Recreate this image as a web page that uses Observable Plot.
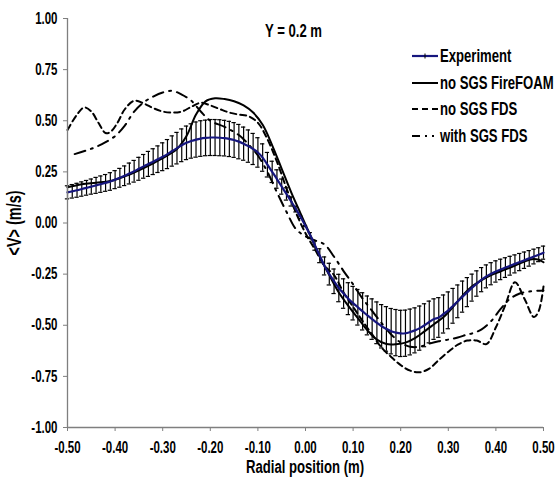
<!DOCTYPE html>
<html><head><meta charset="utf-8">
<script src="https://cdn.jsdelivr.net/npm/d3@7"></script>
<script src="https://cdn.jsdelivr.net/npm/@observablehq/plot@0.6"></script>
<style>
body{margin:0;background:#fff;}
#wrap{position:relative;width:558px;height:486px;font-family:"Liberation Sans",Arial,sans-serif;font-weight:bold;color:#000;}
.lbl{position:absolute;white-space:nowrap;line-height:1;}
.leg{position:absolute;left:412px;top:0;}
.leg div{position:absolute;left:28px;font-size:16px;white-space:nowrap;line-height:1;transform-origin:0 50%;transform:translateY(-50%) scale(0.82,1.15);}
.leg svg{position:absolute;left:0;overflow:visible;}
</style></head><body><div id="wrap"></div>
<script>
// ---- data ----
const expX = [-0.50,-0.49,-0.48,-0.47,-0.46,-0.45,-0.44,-0.43,-0.42,-0.41,-0.40,-0.39,-0.38,-0.37,-0.36,-0.35,-0.34,-0.33,-0.32,-0.31,-0.30,-0.29,-0.28,-0.27,-0.26,-0.25,-0.24,-0.23,-0.22,-0.21,-0.20,-0.19,-0.18,-0.17,-0.16,-0.15,-0.14,-0.13,-0.12,-0.11,-0.10,-0.09,-0.08,-0.07,-0.06,-0.05,-0.04,-0.03,-0.02,-0.01,0.00,0.01,0.02,0.03,0.04,0.05,0.06,0.07,0.08,0.09,0.10,0.11,0.12,0.13,0.14,0.15,0.16,0.17,0.18,0.19,0.20,0.21,0.22,0.23,0.24,0.25,0.26,0.27,0.28,0.29,0.30,0.31,0.32,0.33,0.34,0.35,0.36,0.37,0.38,0.39,0.40,0.41,0.42,0.43,0.44,0.45,0.46,0.47,0.48,0.49,0.50];
const expV = [0.150,0.155,0.160,0.166,0.172,0.178,0.184,0.190,0.196,0.203,0.212,0.221,0.231,0.242,0.253,0.265,0.277,0.289,0.300,0.312,0.324,0.337,0.352,0.366,0.380,0.392,0.401,0.408,0.413,0.416,0.418,0.418,0.417,0.415,0.411,0.406,0.398,0.388,0.376,0.362,0.345,0.320,0.285,0.250,0.215,0.178,0.142,0.105,0.068,0.028,-0.015,-0.060,-0.110,-0.160,-0.210,-0.250,-0.285,-0.318,-0.345,-0.370,-0.392,-0.412,-0.432,-0.452,-0.470,-0.488,-0.505,-0.518,-0.529,-0.536,-0.540,-0.539,-0.533,-0.525,-0.514,-0.500,-0.484,-0.470,-0.462,-0.445,-0.427,-0.405,-0.383,-0.360,-0.338,-0.316,-0.296,-0.277,-0.261,-0.248,-0.237,-0.227,-0.218,-0.209,-0.200,-0.191,-0.182,-0.173,-0.164,-0.155,-0.145];
const expErr = [0.032,0.033,0.034,0.035,0.036,0.037,0.039,0.040,0.041,0.043,0.044,0.046,0.048,0.051,0.053,0.056,0.058,0.061,0.063,0.065,0.068,0.071,0.074,0.077,0.080,0.082,0.084,0.086,0.087,0.087,0.088,0.088,0.088,0.087,0.086,0.085,0.084,0.081,0.079,0.076,0.072,0.067,0.060,0.052,0.045,0.037,0.030,0.022,0.014,0.006,0.003,0.013,0.023,0.034,0.044,0.053,0.060,0.067,0.072,0.078,0.082,0.087,0.091,0.095,0.099,0.102,0.106,0.109,0.111,0.113,0.113,0.113,0.112,0.110,0.108,0.105,0.102,0.099,0.097,0.093,0.090,0.085,0.080,0.076,0.071,0.066,0.062,0.059,0.056,0.054,0.052,0.050,0.048,0.046,0.044,0.042,0.040,0.038,0.036,0.034,0.032];

const foamX = [-0.50,-0.47,-0.44,-0.41,-0.38,-0.35,-0.32,-0.29,-0.27,-0.25,-0.23,-0.21,-0.19,-0.17,-0.15,-0.13,-0.11,-0.09,-0.07,-0.05,-0.03,-0.01,0.01,0.03,0.05,0.07,0.09,0.11,0.13,0.15,0.17,0.19,0.21,0.23,0.25,0.27,0.29,0.31,0.33,0.35,0.37,0.39,0.41,0.43,0.45,0.47,0.48,0.49,0.50];
const foamV = [0.175,0.190,0.197,0.205,0.228,0.258,0.292,0.330,0.362,0.425,0.530,0.595,0.610,0.606,0.595,0.575,0.540,0.480,0.380,0.265,0.150,0.045,-0.060,-0.165,-0.255,-0.340,-0.405,-0.465,-0.525,-0.570,-0.592,-0.593,-0.585,-0.563,-0.530,-0.495,-0.460,-0.410,-0.355,-0.310,-0.280,-0.255,-0.236,-0.218,-0.198,-0.180,-0.176,-0.180,-0.192];

const fdsX = [-0.50,-0.48,-0.465,-0.45,-0.435,-0.42,-0.41,-0.395,-0.38,-0.36,-0.34,-0.32,-0.30,-0.28,-0.26,-0.24,-0.22,-0.20,-0.18,-0.16,-0.14,-0.12,-0.10,-0.08,-0.06,-0.04,-0.02,0.00,0.02,0.04,0.06,0.08,0.10,0.12,0.14,0.16,0.18,0.20,0.22,0.24,0.26,0.28,0.30,0.32,0.34,0.36,0.38,0.40,0.42,0.44,0.46,0.48,0.49,0.50];
const fdsV = [0.455,0.530,0.565,0.545,0.490,0.440,0.445,0.490,0.555,0.598,0.585,0.562,0.545,0.540,0.545,0.568,0.588,0.575,0.557,0.540,0.530,0.522,0.490,0.410,0.300,0.170,0.050,-0.050,-0.130,-0.210,-0.255,-0.340,-0.410,-0.480,-0.545,-0.610,-0.655,-0.695,-0.722,-0.730,-0.712,-0.670,-0.630,-0.595,-0.575,-0.575,-0.592,-0.510,-0.400,-0.290,-0.370,-0.460,-0.430,-0.310];

const sgsX = [-0.485,-0.46,-0.44,-0.42,-0.40,-0.38,-0.36,-0.34,-0.32,-0.30,-0.28,-0.26,-0.24,-0.22,-0.20,-0.17,-0.14,-0.12,-0.10,-0.08,-0.06,-0.04,-0.02,0.00,0.02,0.04,0.06,0.08,0.10,0.12,0.14,0.16,0.18,0.20,0.22,0.24,0.26,0.28,0.30,0.32,0.34,0.35,0.37,0.39,0.41,0.43,0.45,0.47,0.50];
const sgsV = [0.337,0.355,0.372,0.395,0.425,0.475,0.545,0.590,0.618,0.638,0.646,0.628,0.598,0.545,0.500,0.470,0.430,0.385,0.330,0.250,0.150,0.055,-0.030,-0.065,-0.085,-0.105,-0.165,-0.235,-0.300,-0.370,-0.430,-0.490,-0.545,-0.585,-0.605,-0.605,-0.590,-0.578,-0.570,-0.560,-0.545,-0.540,-0.520,-0.480,-0.420,-0.370,-0.345,-0.335,-0.330];

const xTicks = [-0.5,-0.4,-0.3,-0.2,-0.1,0,0.1,0.2,0.3,0.4,0.5];
const xTickLabels = ["-0.50","-0.40","-0.30","-0.20","-0.10","0.00","0.10","0.20","0.30","0.40","0.50"];
const yTicks = [-1,-0.75,-0.5,-0.25,0,0.25,0.5,0.75,1];
const yTickLabels = ["-1.00","-0.75","-0.50","-0.25","0.00","0.25","0.50","0.75","1.00"];

const seriesNames = ["Experiment","no SGS FireFOAM","no SGS FDS","with SGS FDS"];
const titleText = "Y = 0.2 m";
const xLabel = "Radial position (m)";
const yLabel = "<V> (m/s)";

// ---- build tables ----
const exp = expX.map((x,i)=>({x, v:expV[i], e:expErr[i]}));
const foam = foamX.map((x,i)=>({x, v:foamV[i]}));
const fds = fdsX.map((x,i)=>({x, v:fdsV[i]}));
const sgs = sgsX.map((x,i)=>({x, v:sgsV[i]}));
const capHalf = 0.0045;
const blue = "#16167e";
const axisGray = "#7f7f7f";

const plot = Plot.plot({
  width: 558, height: 486,
  marginLeft: 67, marginRight: 15, marginTop: 18, marginBottom: 59,
  x: {domain: [-0.5, 0.5]},
  y: {domain: [-1, 1]},
  style: {fontFamily: '"Liberation Sans",Arial,sans-serif', fontSize: "14px", fontWeight: "bold", background: "#fff", color: "#000"},
  marks: [
    Plot.ruleX(exp, {x: "x", y1: d => d.v - d.e, y2: d => d.v + d.e, stroke: "#000", strokeWidth: 1.2}),
    Plot.ruleY(exp, {y: d => d.v + d.e, x1: d => d.x - capHalf, x2: d => d.x + capHalf, stroke: "#000", strokeWidth: 1.2}),
    Plot.ruleY(exp, {y: d => d.v - d.e, x1: d => d.x - capHalf, x2: d => d.x + capHalf, stroke: "#000", strokeWidth: 1.2}),
    Plot.line(fds, {x: "x", y: "v", stroke: "#000", strokeWidth: 2, strokeDasharray: "6,4", curve: "catmull-rom"}),
    Plot.line(sgs, {x: "x", y: "v", stroke: "#000", strokeWidth: 2, strokeDasharray: "11,6,2,6", curve: "catmull-rom"}),
    Plot.line(foam, {x: "x", y: "v", stroke: "#000", strokeWidth: 2, curve: "catmull-rom"}),
    Plot.line(exp, {x: "x", y: "v", stroke: blue, strokeWidth: 2.2, curve: "catmull-rom"}),
    Plot.axisX({ticks: xTicks, tickFormat: (d) => xTickLabels[xTicks.indexOf(d)], tickSize: 4, tickPadding: 10, label: null, stroke: axisGray, fill: "#000"}),
    Plot.axisY({ticks: yTicks, tickFormat: (d) => yTickLabels[yTicks.indexOf(d)], tickSize: 4, tickPadding: 6, label: null, stroke: axisGray, fill: "#000"}),
    Plot.ruleX([-0.5], {stroke: axisGray, strokeWidth: 1.3}),
    Plot.ruleY([-1], {stroke: axisGray, strokeWidth: 1.3})
  ]
});

const wrap = document.getElementById("wrap");
wrap.appendChild(plot);
plot.style.position = "absolute"; plot.style.left = "0"; plot.style.top = "0";

// condense the tick labels (narrow bold look) around their own anchor points
plot.querySelectorAll("text").forEach(t => {
  const tr = t.getAttribute("transform");
  if (tr) {
    t.setAttribute("transform", tr + " scale(0.82,1.15)");
  } else {
    const x = +(t.getAttribute("x") || 0), y = +(t.getAttribute("y") || 0);
    t.setAttribute("transform", `translate(${x},${y}) scale(0.82,1.15) translate(${-x},${-y})`);
  }
});

function addLabel(text, css){
  const d = document.createElement("div");
  d.className = "lbl"; d.textContent = text;
  Object.assign(d.style, css);
  wrap.appendChild(d);
  return d;
}
addLabel(titleText, {left: "265px", top: "31px", fontSize: "16px", transformOrigin: "0 50%", transform: "translateY(-50%) scale(0.82,1.15)"});
addLabel(xLabel, {left: "305px", top: "467px", fontSize: "16px", transform: "translate(-50%,-50%) scale(0.82,1.15)"});
addLabel(yLabel, {left: "15px", top: "223px", fontSize: "17px", transform: "translate(-50%,-50%) rotate(-90deg) scale(0.85,1.15)"});

// legend
const leg = document.createElement("div");
leg.className = "leg"; wrap.appendChild(leg);
const rowY = [56, 82.5, 109, 135.5];
const samples = [
  `<line x1="0" y1="0" x2="26" y2="0" stroke="${blue}" stroke-width="2.2"/><line x1="13" y1="-2.5" x2="13" y2="2.5" stroke="#000" stroke-width="1"/>`,
  `<line x1="0" y1="0" x2="26" y2="0" stroke="#000" stroke-width="2"/>`,
  `<line x1="0" y1="0" x2="26" y2="0" stroke="#000" stroke-width="2" stroke-dasharray="6,4"/>`,
  `<line x1="0" y1="0" x2="26" y2="0" stroke="#000" stroke-width="2" stroke-dasharray="8,5,2,5,2,5"/>`
];
seriesNames.forEach((name,i)=>{
  const s = document.createElementNS("http://www.w3.org/2000/svg","svg");
  s.setAttribute("width","26"); s.setAttribute("height","1");
  s.style.top = rowY[i] + "px";
  s.innerHTML = samples[i];
  leg.appendChild(s);
  const t = document.createElement("div");
  t.textContent = name; t.style.top = rowY[i] + "px";
  leg.appendChild(t);
});
</script></body></html>
